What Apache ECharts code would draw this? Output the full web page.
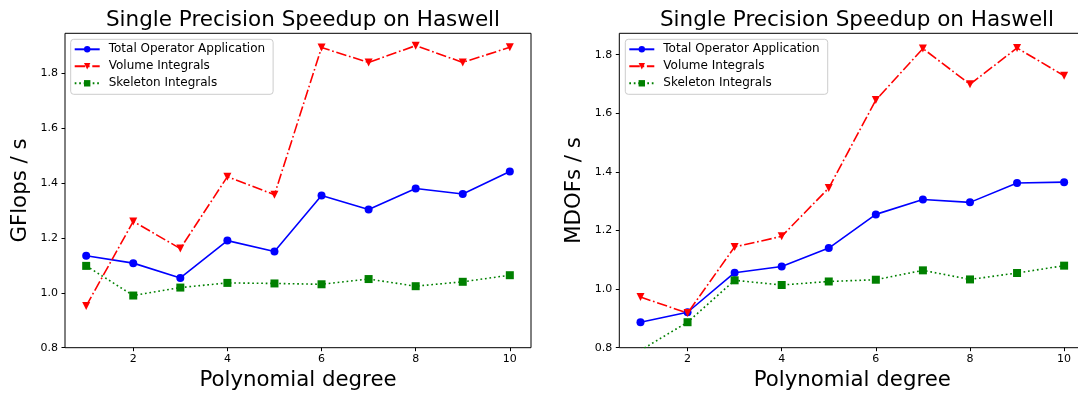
<!DOCTYPE html>
<html><head><meta charset="utf-8">
<script src="https://cdn.jsdelivr.net/npm/echarts@6/dist/echarts.min.js"></script>
<style>html,body{margin:0;padding:0;background:#fff}#c{width:1078px;height:396px}</style>
</head><body><div id="c"></div>
<script>
// ---- data ----
const degrees = [1, 2, 3, 4, 5, 6, 7, 8, 9, 10];
const seriesNames = ['Total Operator Application', 'Volume Integrals', 'Skeleton Integrals'];
// left: GFlops / s
const gflopsTotal    = [1.135, 1.108, 1.054, 1.190, 1.150, 1.354, 1.303, 1.380, 1.360, 1.442];
const gflopsVolume   = [0.952, 1.260, 1.161, 1.423, 1.357, 1.893, 1.839, 1.900, 1.839, 1.894];
const gflopsSkeleton = [1.098, 0.990, 1.019, 1.036, 1.034, 1.031, 1.050, 1.024, 1.040, 1.064];
// right: MDOFs / s
const mdofsTotal    = [0.887, 0.921, 1.056, 1.077, 1.140, 1.255, 1.306, 1.296, 1.362, 1.365];
const mdofsVolume   = [0.973, 0.918, 1.144, 1.180, 1.345, 1.645, 1.821, 1.699, 1.823, 1.728];
const mdofsSkeleton = [0.791, 0.887, 1.030, 1.014, 1.026, 1.032, 1.064, 1.033, 1.055, 1.080];
// ticks
const xTicks = [2, 4, 6, 8, 10];
const yTicks = [0.8, 1.0, 1.2, 1.4, 1.6, 1.8];
const titleText = 'Single Precision Speedup on Haswell';
const xName = 'Polynomial degree';
const yNames = ['GFlops / s', 'MDOFs / s'];

// ---- styling ----
const FONT = 'DejaVu Sans';
const LW = 1.6;
const styles = [
  {color: '#0000ff', symbol: 'circle', rotate: 0, type: 'solid'},
  {color: '#ff0000', symbol: 'triangle', rotate: 180, type: [10.5, 2.7, 1.7, 2.7]},
  {color: '#008000', symbol: 'rect', rotate: 0, type: [1.7, 2.8]}
];

const grids = [
  {left: 65, top: 33.3, width: 466, height: 314.4},
  {left: 619.3, top: 33.3, width: 466, height: 314.4}
];
const yMax = [1.945, 1.873];
const titleCenters = [298, 852];

function xAxis(i) {
  return {
    type: 'value', gridIndex: i, min: 0.55, max: 10.45,
    name: xName, nameLocation: 'middle', nameGap: 22,
    nameTextStyle: {fontFamily: FONT, fontSize: 21.3, color: '#000'},
    axisLine: {show: false},
    axisTick: {show: true, length: 3.5, customValues: xTicks, lineStyle: {color: '#000', width: 1}},
    axisLabel: {customValues: xTicks, fontFamily: FONT, fontSize: 11, color: '#000', margin: 6},
    splitLine: {show: false}
  };
}
function yAxis(i) {
  return {
    type: 'value', gridIndex: i, min: 0.8, max: yMax[i],
    name: yNames[i], nameLocation: 'middle', nameGap: 34,
    nameTextStyle: {fontFamily: FONT, fontSize: 21.3, color: '#000'},
    axisLine: {show: false},
    axisTick: {show: true, length: 3.5, customValues: yTicks, lineStyle: {color: '#000', width: 1}},
    axisLabel: {customValues: yTicks, fontFamily: FONT, fontSize: 11, color: '#000', margin: 7,
      formatter: v => v.toFixed(1)},
    splitLine: {show: false}
  };
}
function mkSeries(i, k, vals) {
  const s = styles[k];
  return {
    type: 'line', name: seriesNames[k], xAxisIndex: i, yAxisIndex: i,
    data: degrees.map((d, j) => [d, vals[j]]),
    symbol: s.symbol, symbolSize: 8, symbolRotate: s.rotate, showAllSymbol: true,
    lineStyle: {color: s.color, width: LW, type: s.type},
    itemStyle: {color: s.color},
    clip: true, animation: false, z: 2 + k
  };
}
function legend(i) {
  return {
    data: seriesNames, orient: 'vertical',
    left: i === 0 ? 70.7 : 625.3, top: 39.3,
    padding: [3, 8, 4, 3],
    itemWidth: 25, itemHeight: 8, itemGap: 3,
    backgroundColor: 'rgba(255,255,255,0.8)', borderColor: '#cccccc', borderWidth: 1, borderRadius: 3,
    textStyle: {fontFamily: FONT, fontSize: 12, color: '#000', lineHeight: 14, padding: [0, 0, 0, 4]},
    selectedMode: false
  };
}

const chart = echarts.init(document.getElementById('c'), null, {renderer: 'canvas'});
chart.setOption({
  animation: false,
  backgroundColor: '#fff',
  title: [0, 1].map(i => ({
    text: titleText, left: titleCenters[i], top: 4, textAlign: 'center',
    textStyle: {fontFamily: FONT, fontSize: 21.5, fontWeight: 'normal', color: '#000'}
  })),
  legend: [legend(0), legend(1)],
  grid: grids.map(g => Object.assign({show: true, borderColor: '#000', borderWidth: 1, backgroundColor: 'transparent', containLabel: false, outerBoundsMode: 'none'}, g)),
  xAxis: [xAxis(0), xAxis(1)],
  yAxis: [yAxis(0), yAxis(1)],
  series: [
    mkSeries(0, 0, gflopsTotal), mkSeries(0, 1, gflopsVolume), mkSeries(0, 2, gflopsSkeleton),
    mkSeries(1, 0, mdofsTotal), mkSeries(1, 1, mdofsVolume), mkSeries(1, 2, mdofsSkeleton)
  ]
});
</script></body></html>
